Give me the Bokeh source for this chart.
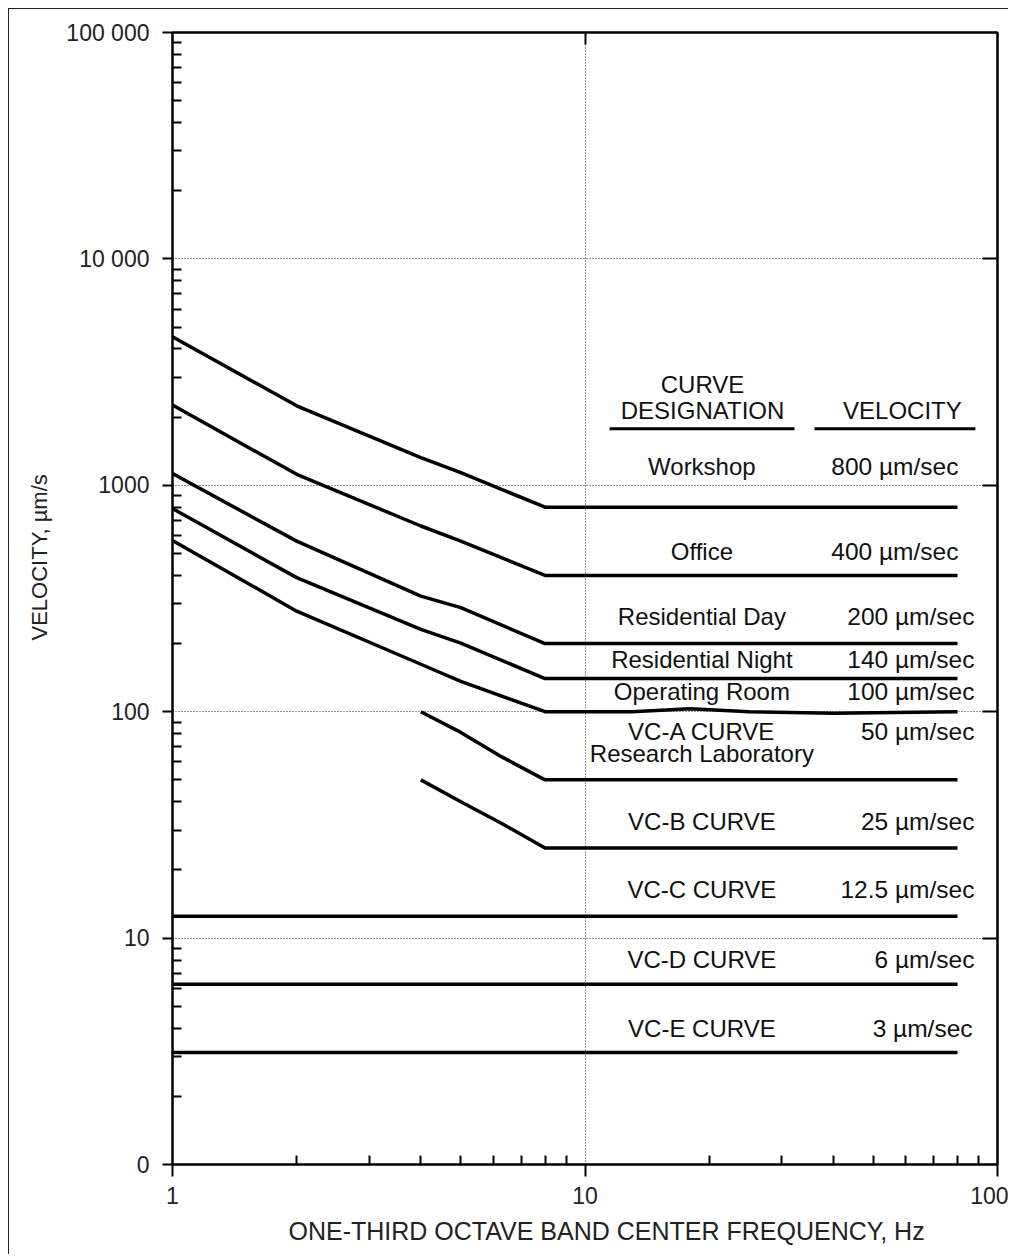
from bokeh.plotting import figure
from bokeh.models import (LogAxis, FixedTicker, ColumnDataSource, Range1d,
                          CustomJSTickFormatter, Title)
from bokeh.core.properties import value
from bokeh.embed import file_html
from bokeh.resources import INLINE

FONT = "Liberation Sans"

# ---------------- data ----------------
freq_major = [1, 10, 100]
freq_labels = ["1", "10", "100"]
vel_major = [1, 10, 100, 1000, 10000, 100000]
vel_labels = ["0", "10", "100", "1000", "10 000", "100 000"]

workshop_f = [1, 2, 4, 5, 8, 80]
workshop_v = [4530, 2245, 1325, 1138, 800, 800]
office_f = [1, 2, 4, 5, 8, 80]
office_v = [2260, 1118, 661, 567, 400, 400]
resday_f = [1, 2, 4, 5, 8, 80]
resday_v = [1126, 567, 324, 288, 200, 200]
resnight_f = [1, 2, 4, 5, 8, 80]
resnight_v = [789, 391, 231, 201, 140, 140]
oproom_f = [1, 2, 4, 5, 8, 13, 18, 25, 40, 50, 80]
oproom_v = [571, 278, 162, 136, 100, 100, 103, 100, 98.5, 99, 100]
vca_f = [4, 5, 6.3, 8, 80]
vca_v = [100, 81, 63, 50, 50]
vcb_f = [4, 5, 6.3, 8, 80]
vcb_v = [50, 40, 32, 25, 25]
vcc_f = [1, 80]
vcc_v = [12.5, 12.5]
vcd_f = [1, 80]
vcd_v = [6.25, 6.25]
vce_f = [1, 80]
vce_v = [3.125, 3.125]

curve_names = ["Workshop", "Office", "Residential Day", "Residential Night",
               "Operating Room", "VC-A CURVE", "VC-B CURVE", "VC-C CURVE",
               "VC-D CURVE", "VC-E CURVE"]
curve_levels = [800, 400, 200, 140, 100, 50, 25, 12.5, 6.25, 3.125]
velocity_labels = ["800 µm/sec", "400 µm/sec", "200 µm/sec", "140 µm/sec",
                   "100 µm/sec", "50 µm/sec", "25 µm/sec", "12.5 µm/sec",
                   "6 µm/sec", "3 µm/sec"]
extra_label = "Research Laboratory"
header_labels = ["CURVE", "DESIGNATION", "VELOCITY"]
x_title = "ONE-THIRD OCTAVE BAND CENTER FREQUENCY, Hz"
y_title = "VELOCITY, µm/s"

# ---------------- layout / style ----------------
SHIFT = -9
name_offsets = [o + SHIFT for o in [-32, -15, -18.5, -10.5, -11.6, -39, -18, -18, -16, -15]]
extra_offset = -17 + SHIFT
vel_right = [80.4, 80.4, 87.9, 87.9, 87.9, 87.9, 87.9, 87.9, 87.9, 87.0]
name_x = 19.2
name_size = "24px"
vel_size = "24.5px"
header_x = [19.27, 19.27, 58.8]
header_y = [2536, 1945, 1945]

p = figure(width=1000, height=1246, x_axis_type="log", y_axis_type="log",
           x_range=Range1d(1, 100), y_range=Range1d(1, 100000),
           output_backend="svg", toolbar_location=None,
           min_border_left=163, min_border_right=12,
           min_border_top=23, min_border_bottom=91)
p.styles = {"margin-left": "8px", "margin-top": "8px",
            "border-left": "1px solid #222", "border-top": "1px solid #222"}
p.background_fill_color = "white"
p.border_fill_color = "white"
p.outline_line_color = "black"
p.outline_line_width = 2

fmt_x = CustomJSTickFormatter(args=dict(vals=freq_major, labs=freq_labels), code="""
const i = vals.findIndex(v => Math.abs(Math.log10(v) - Math.log10(tick)) < 1e-6);
return i >= 0 ? labs[i] : '';
""")
fmt_y = CustomJSTickFormatter(args=dict(vals=vel_major, labs=vel_labels), code="""
const i = vals.findIndex(v => Math.abs(Math.log10(v) - Math.log10(tick)) < 1e-6);
return i >= 0 ? labs[i] : '';
""")
blank = CustomJSTickFormatter(code="return '';")

x_minor = [m * 10 ** k for k in range(2) for m in range(2, 10)]
y_minor = [m * 10 ** k for k in range(5) for m in range(2, 10)]

xa = p.xaxis[0]
xa.ticker = FixedTicker(ticks=freq_major, minor_ticks=x_minor)
xa.formatter = fmt_x
ya = p.yaxis[0]
ya.ticker = FixedTicker(ticks=vel_major, minor_ticks=y_minor)
ya.formatter = fmt_y

for ax, tout in ((xa, 12), (ya, 10)):
    ax.major_tick_out = tout
    ax.major_tick_in = 0
    ax.minor_tick_in = 9
    ax.minor_tick_out = 0
    ax.major_tick_line_width = 2
    ax.minor_tick_line_width = 2
    ax.major_tick_line_color = "black"
    ax.minor_tick_line_color = "black"
    ax.axis_line_width = 2
    ax.axis_line_color = "black"
    ax.major_label_text_font = FONT
    ax.major_label_text_font_size = "23px"
    ax.major_label_text_color = "#222"

xa.major_label_standoff = 10
ya.major_label_standoff = 13

top = LogAxis(ticker=FixedTicker(ticks=[10], minor_ticks=[]), formatter=blank,
              major_tick_in=12, major_tick_out=0, major_tick_line_width=2,
              axis_line_width=2, axis_line_color="black",
              major_label_text_font_size="1px")
right = LogAxis(ticker=FixedTicker(ticks=[10, 100, 1000, 10000], minor_ticks=[]),
                formatter=blank, major_tick_in=15, major_tick_out=0,
                major_tick_line_width=2, axis_line_width=2, axis_line_color="black",
                major_label_text_font_size="1px")
p.add_layout(top, "above")
p.add_layout(right, "right")

for g in (p.xgrid[0], p.ygrid[0]):
    g.grid_line_color = "#333"
    g.grid_line_dash = "1 2"
    g.grid_line_width = 1

# axis titles as side-panel titles (offset along the axis from its start)
p.add_layout(Title(text=x_title, align="left", offset=116, standoff=16,
                   text_font=FONT, text_font_size="25px", text_font_style="normal",
                   text_color="#222"), "below")
p.add_layout(Title(text=y_title, align="left", offset=524, standoff=24,
                   text_font=FONT, text_font_size="22px", text_font_style="normal",
                   text_color="#222"), "left")

# ---------------- curves ----------------
for fx, vy in ((workshop_f, workshop_v), (office_f, office_v), (resday_f, resday_v),
               (resnight_f, resnight_v), (oproom_f, oproom_v), (vca_f, vca_v),
               (vcb_f, vcb_v), (vcc_f, vcc_v), (vcd_f, vcd_v), (vce_f, vce_v)):
    p.line(fx, vy, line_color="black", line_width=3.5, line_join="round")

# ---------------- labels ----------------
names_src = ColumnDataSource(dict(
    x=[name_x] * (len(curve_names) + 1),
    y=curve_levels + [curve_levels[5]],
    text=curve_names + [extra_label],
    dy=name_offsets + [extra_offset],
))
p.text(x="x", y="y", text="text", y_offset="dy", source=names_src,
       text_align="center", text_baseline="alphabetic",
       text_font=value(FONT), text_font_size=name_size, text_color="#111")

vel_src = ColumnDataSource(dict(x=vel_right, y=curve_levels, text=velocity_labels,
                                dy=name_offsets))
p.text(x="x", y="y", text="text", y_offset="dy", source=vel_src,
       text_align="right", text_baseline="alphabetic",
       text_font=value(FONT), text_font_size=vel_size, text_color="#111")

# header
header_src = ColumnDataSource(dict(x=header_x, y=header_y, text=header_labels))
p.text(x="x", y="y", text="text", source=header_src, text_align="center",
       text_baseline="alphabetic", y_offset=SHIFT, text_font=value(FONT),
       text_font_size="24px", text_color="#111")
p.segment(x0=[11.47, 36.0], y0=[1776, 1776], x1=[32.2, 88.4], y1=[1776, 1776],
          line_color="black", line_width=3)

open("out.html", "w").write(file_html(p, INLINE))
